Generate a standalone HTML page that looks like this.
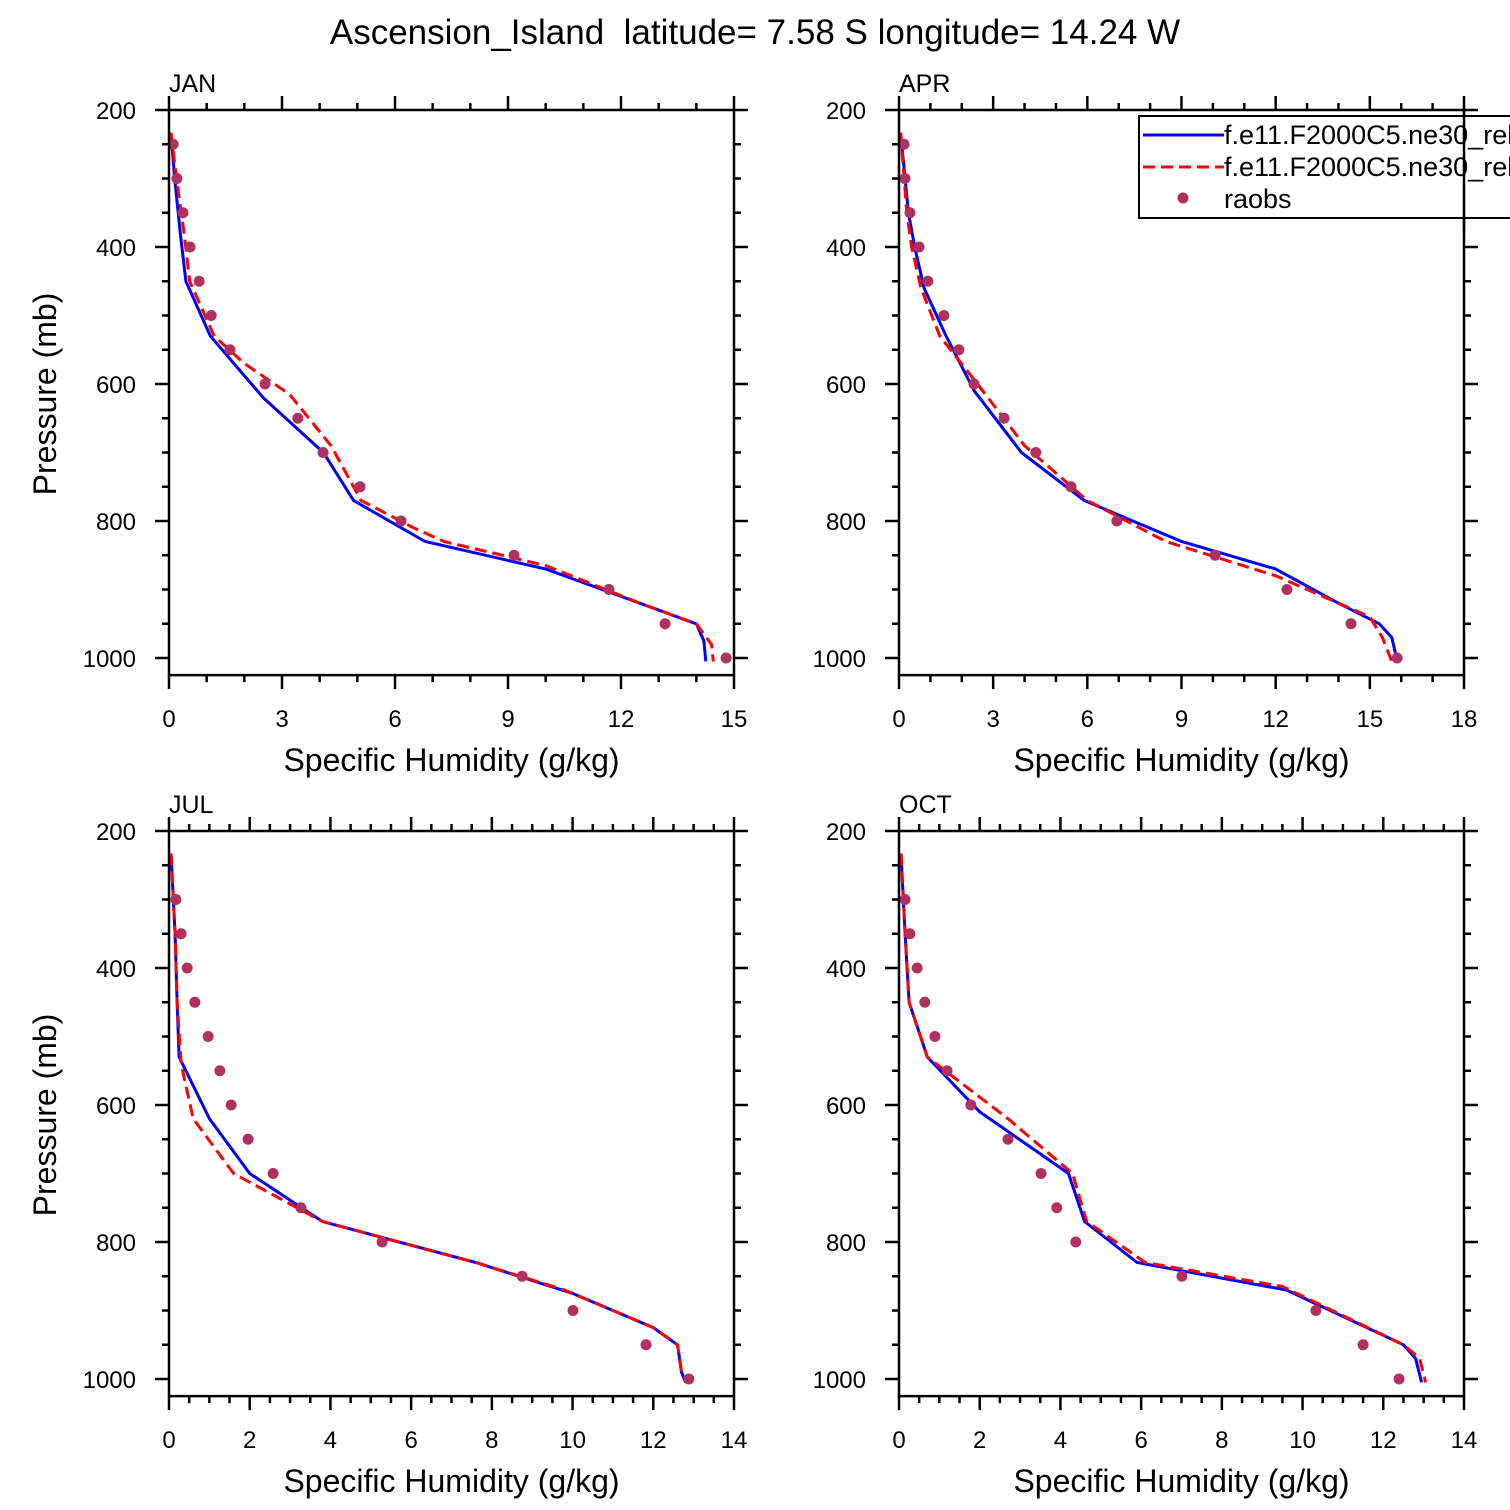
<!DOCTYPE html>
<html><head><meta charset="utf-8"><style>
body{margin:0;background:#fff;}
svg{display:block;font-family:"Liberation Sans",sans-serif;}
</style></head><body>
<svg id="c" width="1510" height="1510" viewBox="0 0 1510 1510" xmlns="http://www.w3.org/2000/svg">
<text x="755" y="44" font-size="35" text-anchor="middle">Ascension_Island &#160;latitude= 7.58 S longitude= 14.24 W</text>
</svg>
<script>
const obsP = [250,300,350,400,450,500,550,600,650,700,750,800,850,900,950,1000];
const janObs = [0.11,0.21,0.37,0.56,0.8,1.12,1.62,2.55,3.42,4.09,5.07,6.16,9.16,11.68,13.17,14.79];
const janBlueQ = [0.05,0.15,0.3,0.45,1.1,2.5,4.1,4.9,6.8,10,12.5,14,14.2,14.25];
const janBlueP = [233,300,380,450,530,620,700,770,830,870,920,950,975,1005];
const janRedQ = [0.05,0.2,0.4,0.55,1.2,2,3.2,4.3,5.1,6.5,7.3,10,12.5,14,14.4,14.45];
const janRedP = [233,300,380,450,530,570,615,690,770,810,830,865,920,950,980,1005];
const aprObs = [0.16,0.19,0.35,0.64,0.92,1.43,1.91,2.39,3.35,4.36,5.48,6.94,10.07,12.36,14.4,15.87];
const aprBlueQ = [0.05,0.3,0.5,0.8,1.5,2.4,3.9,5.9,9,12,14,15.3,15.7,15.85];
const aprBlueP = [233,350,400,460,530,610,700,770,830,870,920,950,970,1000];
const aprRedQ = [0.05,0.25,0.4,0.7,1.3,2.5,4,5.5,6,8.5,12,15,15.4,15.7];
const aprRedP = [233,350,400,460,530,600,690,750,770,830,880,940,970,1005];
const julObsP = [300,350,400,450,500,550,600,650,700,750,800,850,900,950,1000];
const julObs = [0.17,0.3,0.45,0.64,0.97,1.26,1.54,1.96,2.58,3.27,5.28,8.75,10.01,11.82,12.88];
const julBlueQ = [0.05,0.15,0.2,0.25,1.0,2.0,3.8,7.6,10,11,12,12.6,12.7,12.8];
const julBlueP = [233,350,450,530,620,700,770,830,875,900,925,950,990,1005];
const julRedQ = [0.05,0.15,0.2,0.3,0.6,1.6,3.8,7.6,9.8,11,12,12.6,12.7,12.85];
const julRedP = [233,350,450,540,620,700,770,830,870,900,925,950,990,1005];
const octObsP = [300,350,400,450,500,550,600,650,700,750,800,850,900,950,1000];
const octObs = [0.15,0.27,0.45,0.64,0.89,1.19,1.78,2.7,3.52,3.91,4.38,7.01,10.33,11.5,12.39];
const octBlueQ = [0.05,0.15,0.25,0.7,2,4.2,4.6,5.9,9.6,12.5,12.8,12.95];
const octBlueP = [233,350,450,530,610,700,770,830,870,950,970,1005];
const octRedQ = [0.05,0.15,0.25,0.7,2.7,4.3,4.65,6.1,9.5,12.5,12.9,13.05];
const octRedP = [233,350,450,530,620,700,770,830,865,950,970,1005];
const yTicks = [200,400,600,800,1000];

const svg = document.getElementById('c');
const NS = 'http://www.w3.org/2000/svg';
function mk(tag, attrs, parent){const e=document.createElementNS(NS,tag);for(const k in attrs)e.setAttribute(k,attrs[k]);(parent||svg).appendChild(e);return e;}

function panel(id, label, x0, yTop, xmax, xMajor, xMinor, obsPs, obs, bQ, bP, rQ, rP, showYTitle){
  const W = 565, x1 = x0 + W;
  const y200 = yTop, ppm = 0.685, yBot = yTop + 825*ppm;
  const X = v => x0 + v / xmax * W;
  const Y = p => y200 + (p - 200) * ppm;
  const g = mk('g', {});
  
  
  const clipId = 'clip-' + id;
  const cp = mk('clipPath', {id: clipId}, g);
  mk('rect', {x: x0, y: y200, width: W, height: yBot - y200}, cp);
  for (let p = 200; p <= 1025; p += 50) {
    const major = p % 200 === 0;
    const L = major ? 14 : 7;
    mk('line', {x1: x0 - L, y1: Y(p), x2: x0, y2: Y(p), stroke: '#000', 'stroke-width': 2.5}, g);
    mk('line', {x1: x1, y1: Y(p), x2: x1 + L, y2: Y(p), stroke: '#000', 'stroke-width': 2.5}, g);
  }
  for (let v = 0; v <= xmax + 1e-9; v += xMinor) {
    const major = Math.abs(v / xMajor - Math.round(v / xMajor)) < 1e-6;
    const L = major ? 14 : 7;
    mk('line', {x1: X(v), y1: yBot, x2: X(v), y2: yBot + L, stroke: '#000', 'stroke-width': 2.5}, g);
    mk('line', {x1: X(v), y1: y200 - L, x2: X(v), y2: y200, stroke: '#000', 'stroke-width': 2.5}, g);
    if (major) {
      const t = mk('text', {x: X(v), y: yBot + 52, 'font-size': 24, 'text-anchor': 'middle'}, g);
      t.textContent = String(Math.round(v));
      
      
    }
  }
  yTicks.forEach(p => {
    const t = mk('text', {x: x0 - 33, y: Y(p) + 9, 'font-size': 24, 'text-anchor': 'end'}, g);
    t.textContent = String(p);
    
    
  });
  const pts = (q, p) => q.map((v, i) => X(v).toFixed(1) + ',' + Y(p[i]).toFixed(1)).join(' ');
  const bl = mk('polyline', {points: pts(bQ, bP), fill: 'none', stroke: '#0000ff', 'stroke-width': 3, 'clip-path': 'url(#' + clipId + ')'}, g);
  
  
  const rl = mk('polyline', {points: pts(rQ, rP), fill: 'none', stroke: '#ff0000', 'stroke-width': 3, 'stroke-dasharray': '12,6', 'clip-path': 'url(#' + clipId + ')'}, g);
  
  
  obs.forEach((v, i) => {
    const c = mk('circle', {cx: X(v), cy: Y(obsPs[i]), r: 5.5, fill: '#b03060'}, g);
    
    
  });
  const fr = mk('rect', {x: x0, y: y200, width: W, height: yBot - y200, fill: 'none', stroke: '#000', 'stroke-width': 2.5}, g);
  
  
  const lb = mk('text', {x: x0, y: y200 - 18, 'font-size': 25}, g);
  lb.textContent = label;
  
  
  const xt = mk('text', {x: x0 + W / 2, y: yBot + 96, 'font-size': 32, 'text-anchor': 'middle'}, g);
  xt.textContent = 'Specific Humidity (g/kg)';
  
  
  if (showYTitle) {
    const cy = (y200 + Y(1000)) / 2 + 10;
    const yt = mk('text', {x: 56, y: cy, 'font-size': 32, 'text-anchor': 'middle', transform: 'rotate(-90 56 ' + cy + ')'}, g);
    yt.textContent = 'Pressure (mb)';
    
    
  }
  return {x1, y200};
}

panel('jan', 'JAN', 169, 110, 15, 3, 1, obsP, janObs, janBlueQ, janBlueP, janRedQ, janRedP, true);
panel('apr', 'APR', 899, 110, 18, 3, 1, obsP, aprObs, aprBlueQ, aprBlueP, aprRedQ, aprRedP, false);
panel('jul', 'JUL', 169, 831, 14, 2, 0.5, julObsP, julObs, julBlueQ, julBlueP, julRedQ, julRedP, true);
panel('oct', 'OCT', 899, 831, 14, 2, 0.5, octObsP, octObs, octBlueQ, octBlueP, octRedQ, octRedP, false);

const lg = mk('g', {});


mk('rect', {x: 1139, y: 116, width: 400, height: 102, fill: '#fff', stroke: '#000', 'stroke-width': 2}, lg);
mk('line', {x1: 1143, y1: 135, x2: 1224, y2: 135, stroke: '#0000ff', 'stroke-width': 3}, lg);
mk('line', {x1: 1143, y1: 167, x2: 1224, y2: 167, stroke: '#ff0000', 'stroke-width': 3, 'stroke-dasharray': '12,6'}, lg);
mk('circle', {cx: 1183, cy: 198, r: 5.5, fill: '#b03060'}, lg);
const l1 = mk('text', {x: 1224, y: 144, 'font-size': 27}, lg); l1.textContent = 'f.e11.F2000C5.ne30_rel';


const l2 = mk('text', {x: 1224, y: 176, 'font-size': 27}, lg); l2.textContent = 'f.e11.F2000C5.ne30_rel';


const l3 = mk('text', {x: 1224, y: 208, 'font-size': 27}, lg); l3.textContent = 'raobs';


mk('line', {x1: 1464, y1: 110, x2: 1464, y2: 230, stroke: '#000', 'stroke-width': 2.5}, lg);
</script>
</body></html>
